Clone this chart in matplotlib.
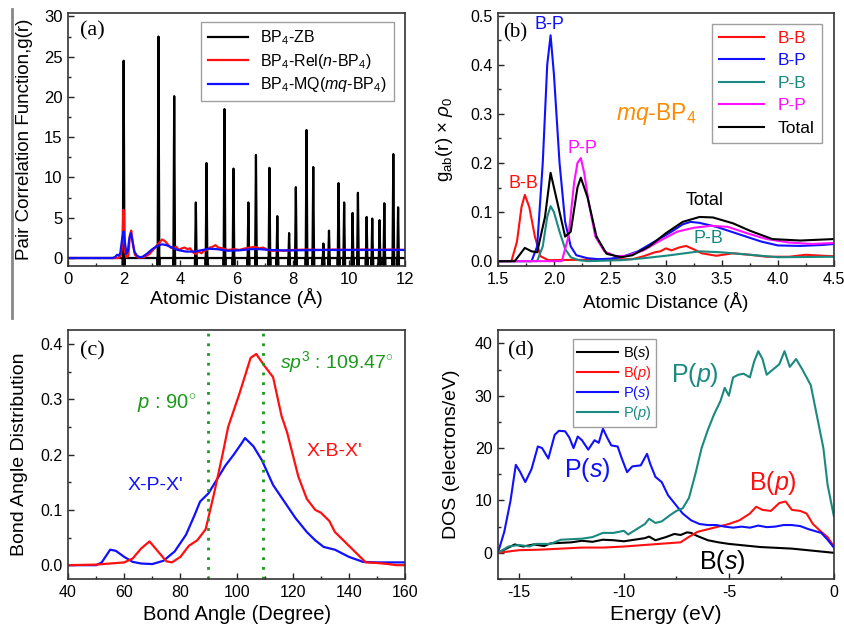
import matplotlib
matplotlib.use("Agg")
import numpy as np
import matplotlib.pyplot as plt
from matplotlib.lines import Line2D
from matplotlib.ticker import MultipleLocator

plt.rcParams['font.family'] = ['Liberation Sans', 'DejaVu Sans']
plt.rcParams['mathtext.fontset'] = 'custom'
plt.rcParams['mathtext.rm'] = 'Liberation Sans'
plt.rcParams['mathtext.it'] = 'Liberation Sans:italic'
plt.rcParams['mathtext.bf'] = 'Liberation Sans:bold'
plt.rcParams['axes.unicode_minus'] = False

RED, BLUE, TEAL, MAGENTA = '#ff1010', '#1010ff', '#1a8a80', '#ff10ff'
GREEN, ORANGE = '#1a9a1a', '#ff8c00'

# (a) pair correlation: crystalline ZB peaks
zb_pos = [1.98, 3.22, 3.78, 4.55, 4.93, 5.57, 5.89, 6.42, 6.69, 7.17, 7.45, 7.87,
          8.11, 8.49, 8.73, 9.09, 9.29, 9.63, 9.83, 10.13, 10.32, 10.63, 10.83,
          11.09, 11.26, 11.58, 11.75]
zb_height = [24.5, 27.5, 20.1, 6.9, 11.8, 18.5, 11.1, 6.9, 12.8, 11.2, 5.2, 3.1,
             8.8, 15.9, 11.3, 1.8, 3.4, 9.3, 6.9, 5.6, 8.1, 5.1, 4.9,
             4.7, 6.8, 12.9, 6.3]

rel_r = [0, 1.8, 1.88, 1.94, 1.97, 2.0, 2.03, 2.08, 2.15, 2.2, 2.25, 2.3, 2.38, 2.5,
         2.7, 2.9, 3.1, 3.25, 3.35, 3.45, 3.55, 3.65, 3.75, 3.85, 3.95, 4.05, 4.15,
         4.25, 4.35, 4.45, 4.55, 4.65, 4.75, 4.85, 4.95, 5.05, 5.15, 5.25, 5.35, 5.5,
         5.7, 5.9, 6.1, 6.3, 6.5, 6.65, 6.8, 6.95, 7.1, 7.3, 7.5, 7.7, 8.0, 8.5, 9.0,
         9.5, 10.0, 10.5, 11.0, 11.5, 12.0]
rel_g = [0, 0, 0.3, 2.0, 6.0, 3.0, 0.8, 0.1, 0.3, 2.8, 3.4, 2.0, 0.4, 0.05,
         0.1, 0.5, 1.3, 1.9, 2.3, 2.1, 1.7, 1.3, 1.2, 1.4, 1.0, 1.2, 1.3,
         1.1, 1.2, 0.7, 0.5, 0.8, 0.6, 0.9, 1.0, 1.3, 1.4, 1.6, 1.3, 1.2,
         1.0, 1.1, 1.0, 1.2, 1.3, 1.4, 1.2, 1.3, 1.0, 0.9, 0.95, 0.9, 1.0, 1.05, 1.0,
         1.05, 1.0, 1.05, 1.0, 1.05, 1.0]

mq_r = [0, 1.6, 1.68, 1.75, 1.8, 1.86, 1.93, 1.98, 2.03, 2.08, 2.13, 2.18, 2.24,
        2.3, 2.36, 2.45, 2.55, 2.65, 2.8, 3.0, 3.2, 3.35, 3.5, 3.7, 3.9, 4.2, 4.5,
        4.8, 5.0, 5.3, 5.7, 6.1, 6.5, 6.8, 7.2, 7.6, 8.0, 9.0, 10.0, 11.0, 12.0]
mq_g = [0, 0, 0.15, 0.4, 0.3, 0.6, 2.5, 3.3, 1.8, 0.5, 0.9, 2.4, 3.1,
        2.0, 0.8, 0.3, 0.1, 0.15, 0.5, 1.1, 1.55, 1.7, 1.6, 1.3, 1.0, 0.8, 0.8,
        1.0, 1.15, 1.1, 0.9, 0.95, 1.1, 1.1, 1.0, 0.95, 0.95, 1.0, 1.0, 1.0, 1.0]

# (b) partial pair correlations of mq-BP4
bb_r = [1.5, 1.62, 1.67, 1.71, 1.74, 1.78, 1.83, 1.88, 1.95, 2.7, 2.8, 2.9, 2.95, 3.0,
        3.05, 3.12, 3.18, 3.25, 3.32, 3.45, 3.6, 3.75, 3.9, 4.1, 4.25, 4.4, 4.5]
bb_g = [0, 0, 0.04, 0.11, 0.135, 0.11, 0.05, 0.01, 0.002, 0.004, 0.01, 0.018, 0.02, 0.026,
        0.022, 0.028, 0.031, 0.024, 0.016, 0.011, 0.016, 0.013, 0.009, 0.009, 0.013, 0.011, 0.010]

bp_r = [1.5, 1.8, 1.85, 1.9, 1.94, 1.97, 2.0, 2.05, 2.1, 2.15, 2.2, 2.3, 2.4, 2.5,
        2.6, 2.75, 2.9, 3.05, 3.15, 3.22, 3.3, 3.45, 3.65, 3.85, 4.0, 4.2, 4.4, 4.5]
bp_g = [0, 0, 0.03, 0.2, 0.4, 0.46, 0.38, 0.2, 0.08, 0.03, 0.012, 0.006, 0.004, 0.005,
        0.008, 0.02, 0.04, 0.06, 0.075, 0.08, 0.078, 0.07, 0.055, 0.04, 0.032, 0.031, 0.033, 0.035]

pb_r = [1.5, 1.85, 1.9, 1.94, 1.97, 2.0, 2.05, 2.1, 2.15, 2.22, 2.3, 2.6, 2.8, 3.0,
        3.2, 3.3, 3.5, 3.8, 4.0, 4.5]
pb_g = [0, 0, 0.03, 0.09, 0.112, 0.1, 0.06, 0.025, 0.008, 0.002, 0, 0.002, 0.006, 0.011,
        0.017, 0.02, 0.018, 0.012, 0.008, 0.009]

pp_r = [1.5, 2.07, 2.13, 2.18, 2.21, 2.24, 2.27, 2.31, 2.37, 2.45, 2.55, 2.65, 2.8,
        2.95, 3.1, 3.25, 3.4, 3.55, 3.75, 3.9, 4.1, 4.3, 4.5]
pp_g = [0, 0, 0.05, 0.16, 0.2, 0.21, 0.18, 0.12, 0.05, 0.02, 0.01, 0.011, 0.022,
        0.042, 0.06, 0.068, 0.072, 0.07, 0.055, 0.045, 0.038, 0.035, 0.037]

tot_r = [1.5, 1.65, 1.7, 1.74, 1.8, 1.85, 1.92, 1.97, 2.03, 2.1, 2.15, 2.21, 2.24,
         2.3, 2.38, 2.47, 2.6, 2.7, 2.85, 3.0, 3.15, 3.3, 3.42, 3.6, 3.75, 3.95,
         4.2, 4.5]
tot_g = [0, 0, 0.015, 0.027, 0.02, 0.018, 0.09, 0.18, 0.12, 0.05, 0.06, 0.15, 0.17,
         0.13, 0.05, 0.015, 0.008, 0.012, 0.03, 0.057, 0.08, 0.09, 0.089, 0.077, 0.062, 0.045,
         0.042, 0.045]

# (c) bond angle distributions
ang_p = [40, 50, 52, 55, 57, 60, 63, 66, 70, 74, 78, 82, 85, 87, 90, 93, 96, 99,
         102, 103, 106, 109, 113, 117, 121, 125, 128, 131, 135, 140, 145, 150, 160]
xpx = [0, 0, 0.005, 0.028, 0.026, 0.015, 0.006, 0.003, 0.002, 0.008, 0.025, 0.055,
       0.09, 0.115, 0.13, 0.155, 0.18, 0.2, 0.222, 0.23, 0.215, 0.19, 0.145, 0.115,
       0.085, 0.06, 0.045, 0.033, 0.028, 0.015, 0.006, 0.005, 0.005]

ang_b = [40, 50, 55, 60, 63, 66, 69, 72, 75, 77, 80, 83, 86, 89, 92, 95, 97, 101,
         105, 107, 110, 113, 116, 118, 122, 125, 128, 130, 133, 135, 140, 143, 146,
         150, 154, 157, 160]
xbx = [0, 0.001, 0.003, 0.005, 0.012, 0.03, 0.043, 0.025, 0.007, 0.005, 0.015, 0.035,
       0.045, 0.065, 0.13, 0.2, 0.25, 0.31, 0.375, 0.382, 0.36, 0.34, 0.27, 0.24,
       0.16, 0.12, 0.1, 0.095, 0.08, 0.06, 0.035, 0.02, 0.005, 0.004, 0.002, 0, 0]

# (d) partial density of states
e_ps = [-16, -15.7, -15.4, -15.15, -14.95, -14.7, -14.4, -14.1, -13.9, -13.6, -13.3,
        -13.1, -12.8, -12.6, -12.4, -12.2, -12.0, -11.7, -11.4, -11.2, -11.0, -10.8,
        -10.6, -10.3, -10.1, -9.85, -9.6, -9.2, -8.9, -8.75, -8.5, -8.2, -7.9, -7.5,
        -7.2, -6.8, -6.4, -6.0, -5.6, -5.2, -4.8, -4.4, -4.0, -3.6, -3.2, -2.8, -2.4,
        -2.0, -1.6, -1.2, -0.6, -0.3, 0]
dos_ps = [0, 4, 10, 16.8, 15.5, 13.5, 16, 20.3, 20, 18, 22.5,
          23.3, 23.2, 22, 20, 22.2, 21.5, 19.7, 21.5, 21, 23.7, 22,
          20.5, 20.3, 18, 15.4, 16.5, 16.7, 18.9, 17, 14.5, 13.5, 11, 9,
          7.5, 6.2, 5.5, 5.3, 5.3, 5.0, 4.8, 5.0, 4.8, 5.2, 4.9, 5.0, 5.3,
          5.3, 5.1, 4.5, 3.8, 2.5, 1.0]

e_pp = [-16, -15.5, -15, -14.5, -14.2, -13.5, -13, -12.5, -12, -11.5, -11, -10.5,
        -10, -9.8, -9.4, -9, -8.8, -8.5, -8.2, -7.8, -7.5, -7.2, -6.9, -6.6, -6.3,
        -6.0, -5.7, -5.4, -5.2, -5.0, -4.8, -4.55, -4.3, -4.0, -3.8, -3.6, -3.4,
        -3.2, -2.9, -2.6, -2.35, -2.1, -1.8, -1.5, -1.1, -0.8, -0.5, -0.3, 0]
dos_pp = [0, 1.2, 1.5, 1.2, 1.7, 1.7, 2.5, 2.6, 2.7, 3.0, 3.8, 3.8,
          4.2, 3.5, 4.5, 5.5, 6.5, 5.7, 6.0, 7.2, 8.0, 8.5, 10.5, 15, 20,
          23.5, 26.5, 29, 31.5, 30, 33.5, 34, 34.2, 33.5, 36.5, 38.5, 37,
          34, 35, 36, 38.5, 35.5, 37, 35, 32, 26, 20, 13, 7]

e_bp = [-16, -15, -14, -13, -12, -11, -10, -9, -8, -7.3, -7, -6.5, -6, -5.5, -5,
        -4.5, -4, -3.7, -3.4, -3.0, -2.6, -2.3, -2.0, -1.6, -1.3, -1.0, -0.6, -0.3, 0]
dos_bp = [0, 0.5, 0.6, 0.8, 1.0, 1.0, 1.2, 1.5, 1.8, 2.0, 2.8, 4.0, 4.5, 5.0, 5.5,
          6.2, 7.5, 8.8, 8.2, 8.0, 9.5, 9.8, 8.2, 8.0, 7.5, 5.5, 4.0, 3.0, 1.2]

e_bs = [-16, -15.5, -15.2, -14.8, -14.3, -13.8, -13.5, -13, -12.5, -12, -11.5, -11,
        -10.5, -10, -9.5, -9, -8.8, -8.5, -8, -7.6, -7.3, -7.0, -6.8, -6.5, -6, -5.5,
        -5, -4.5, -4, -3.5, -3, -2.5, -2, -1.5, -1, -0.5, 0]
dos_bs = [0, 1.0, 1.6, 1.2, 1.6, 1.3, 1.8, 1.9, 2.0, 2.3, 2.1, 2.5,
          2.4, 2.2, 2.5, 2.8, 3.1, 2.4, 3.0, 3.6, 3.4, 3.9, 3.8, 3.2, 2.4, 2.0,
          1.7, 1.5, 1.3, 1.1, 1.0, 0.9, 0.8, 0.6, 0.4, 0.2, 0]


def spikes(pos, height, half_width=0.03, floor=-0.9, xmax=12.0):
    # each ZB peak is a narrow spike whose foot reaches down to the floor
    xs, ys = [0.0], [0.0]
    for p, h in zip(pos, height):
        xs += [p - half_width, p - half_width, p, p + half_width, p + half_width]
        ys += [0.0, floor, h, floor, 0.0]
    xs.append(xmax)
    ys.append(0.0)
    return xs, ys


def style_axes(ax, xmaj, xmin, ymaj, ymin, size=11.5):
    ax.xaxis.set_major_locator(MultipleLocator(xmaj))
    ax.xaxis.set_minor_locator(MultipleLocator(xmin))
    ax.yaxis.set_major_locator(MultipleLocator(ymaj))
    ax.yaxis.set_minor_locator(MultipleLocator(ymin))
    ax.tick_params(which='both', direction='in', top=False, right=False,
                   labelsize=size, pad=4, color='#222222')
    ax.tick_params(which='major', length=4, width=1)
    ax.tick_params(which='minor', length=2.5, width=1)
    for s in ax.spines.values():
        s.set_linewidth(1.2)
        s.set_color('#333333')


fig = plt.figure(figsize=(8.44, 6.29), dpi=100)
ax_a = fig.add_axes([0.0806, 0.577, 0.3994, 0.402])
ax_b = fig.add_axes([0.590, 0.577, 0.398, 0.402])
ax_c = fig.add_axes([0.0806, 0.0795, 0.3994, 0.3955])
ax_d = fig.add_axes([0.590, 0.0795, 0.398, 0.3955])

serif = 'Liberation Serif'

# ---- (a)
zx, zy = spikes(zb_pos, zb_height)
ax_a.plot(zx, zy, color='black', lw=1.6, label='BP$_4$-ZB')
ax_a.plot(rel_r, rel_g, color=RED, lw=1.6, label='BP$_4$-Rel($n$-BP$_4$)')
ax_a.plot(mq_r, mq_g, color=BLUE, lw=1.6, label='BP$_4$-MQ($mq$-BP$_4$)')
ax_a.set_xlim(0, 12)
ax_a.set_ylim(-1, 30.4)
style_axes(ax_a, 2, 1, 5, 2.5, size=12)
ax_a.set_xlabel('Atomic Distance (Å)', fontsize=14, labelpad=1)
ax_a.set_ylabel('Pair Correlation Function,g(r)', fontsize=13.5)
ax_a.yaxis.set_label_coords(-0.105, 0.5)
ax_a.text(0.035, 0.91, '(a)', transform=ax_a.transAxes, fontsize=16, family=serif)
ax_a.legend(loc='upper right', fontsize=11.5, handlelength=2.5, frameon=True,
            fancybox=False, edgecolor='#888888', borderaxespad=0.3,
            bbox_to_anchor=(0.98, 0.985), labelspacing=0.3)

# ---- (b)
ax_b.plot(bb_r, bb_g, color=RED, lw=1.5, label='B-B')
ax_b.plot(bp_r, bp_g, color=BLUE, lw=1.5, label='B-P')
ax_b.plot(pb_r, pb_g, color=TEAL, lw=1.5, label='P-B')
ax_b.plot(pp_r, pp_g, color=MAGENTA, lw=1.5, label='P-P')
ax_b.plot(tot_r, tot_g, color='black', lw=1.5, label='Total')
ax_b.set_xlim(1.5, 4.5)
ax_b.set_ylim(-0.01, 0.505)
style_axes(ax_b, 0.5, 0.25, 0.1, 0.05)
ax_b.xaxis.set_major_formatter(plt.FormatStrFormatter('%.1f'))
ax_b.yaxis.set_major_formatter(plt.FormatStrFormatter('%.1f'))
ax_b.set_xlabel('Atomic Distance (Å)', fontsize=13.5, labelpad=4)
ax_b.set_ylabel(r'g$_{\mathrm{ab}}$(r) $\times$ $\rho_0$', fontsize=13.5)
ax_b.yaxis.set_label_coords(-0.128, 0.5)
ax_b.text(0.015, 0.905, '(b)', transform=ax_b.transAxes, fontsize=15, family=serif)
leg_b = ax_b.legend(loc='upper right', fontsize=12.5, handlelength=2.6, frameon=True,
                    fancybox=False, edgecolor='#888888', bbox_to_anchor=(0.985, 0.985),
                    labelspacing=0.42, borderaxespad=0.4)
for txt, ln in zip(leg_b.get_texts(), leg_b.get_lines()):
    txt.set_color(ln.get_color())
ax_b.text(1.96, 0.481, 'B-P', color=BLUE, fontsize=13, ha='center', va='center')
ax_b.text(1.73, 0.158, 'B-B', color=RED, fontsize=13, ha='center', va='center')
ax_b.text(2.25, 0.23, 'P-P', color=MAGENTA, fontsize=13, ha='center', va='center')
ax_b.text(3.35, 0.124, 'Total', color='black', fontsize=13, ha='center', va='center')
ax_b.text(3.38, 0.046, 'P-B', color=TEAL, fontsize=13, ha='center', va='center')
ax_b.text(2.55, 0.30, '$mq$-BP$_4$', color=ORANGE, fontsize=16.5, ha='left', va='center')

# ---- (c)
ax_c.plot(ang_p, xpx, color=BLUE, lw=1.6)
ax_c.plot(ang_b, xbx, color=RED, lw=1.6)
ax_c.axvline(90, color=GREEN, ls=(0, (1, 2.5)), lw=2)
ax_c.axvline(109.47, color=GREEN, ls=(0, (1, 2.5)), lw=2)
ax_c.set_xlim(40, 160)
ax_c.set_ylim(-0.025, 0.425)
style_axes(ax_c, 20, 10, 0.1, 0.05)
ax_c.yaxis.set_major_formatter(plt.FormatStrFormatter('%.1f'))
ax_c.set_xlabel('Bond Angle (Degree)', fontsize=14.5, labelpad=4)
ax_c.set_ylabel('Bond Angle Distribution', fontsize=14)
ax_c.yaxis.set_label_coords(-0.119, 0.5)
ax_c.text(0.035, 0.9, '(c)', transform=ax_c.transAxes, fontsize=16, family=serif)
ax_c.text(64.5, 0.293, r'$p$ : 90$^{\circ}$', color=GREEN, fontsize=14.5, ha='left', va='center')
ax_c.text(115.4, 0.367, r'$sp^{3}$ : 109.47$^{\circ}$', color=GREEN, fontsize=14,
          ha='left', va='center')
ax_c.text(71, 0.144, "X-P-X'", color=BLUE, fontsize=14, ha='center', va='center')
ax_c.text(135, 0.205, "X-B-X'", color=RED, fontsize=14, ha='center', va='center')

# ---- (d)
ax_d.plot(e_bs, dos_bs, color='black', lw=1.5, label='B($s$)')
ax_d.plot(e_bp, dos_bp, color=RED, lw=1.5, label='B($p$)')
ax_d.plot(e_ps, dos_ps, color=BLUE, lw=1.5, label='P($s$)')
ax_d.plot(e_pp, dos_pp, color=TEAL, lw=1.5, label='P($p$)')
ax_d.set_xlim(-16, 0)
ax_d.set_ylim(-5, 42.5)
style_axes(ax_d, 5, 2.5, 10, 5)
ax_d.set_xlabel('Energy (eV)', fontsize=15, labelpad=4)
ax_d.set_ylabel('DOS (electrons/eV)', fontsize=14)
ax_d.yaxis.set_label_coords(-0.113, 0.5)
ax_d.text(0.03, 0.9, '(d)', transform=ax_d.transAxes, fontsize=16, family=serif)
leg_d = ax_d.legend(loc='upper left', fontsize=10.5, handlelength=2.8, frameon=True,
                    fancybox=False, edgecolor='#888888', bbox_to_anchor=(0.215, 0.975),
                    labelspacing=0.15, borderaxespad=0.2, handletextpad=0.3,
                    borderpad=0.3)
for txt, ln in zip(leg_d.get_texts(), leg_d.get_lines()):
    txt.set_color(ln.get_color())
ax_d.text(-6.6, 33.9, 'P($p$)', color=TEAL, fontsize=18, ha='center', va='center')
ax_d.text(-11.75, 15.8, 'P($s$)', color=BLUE, fontsize=18, ha='center', va='center')
ax_d.text(-2.9, 13.4, 'B($p$)', color=RED, fontsize=18, ha='center', va='center')
ax_d.text(-5.3, -1.8, 'B($s$)', color='black', fontsize=18, ha='center', va='center')

# thin gray rule at the left edge of the page
fig.add_artist(Line2D([0.0145, 0.0145], [0.495, 0.985], transform=fig.transFigure,
                      color='#888888', lw=2))

fig.savefig('out.png', dpi=100)
